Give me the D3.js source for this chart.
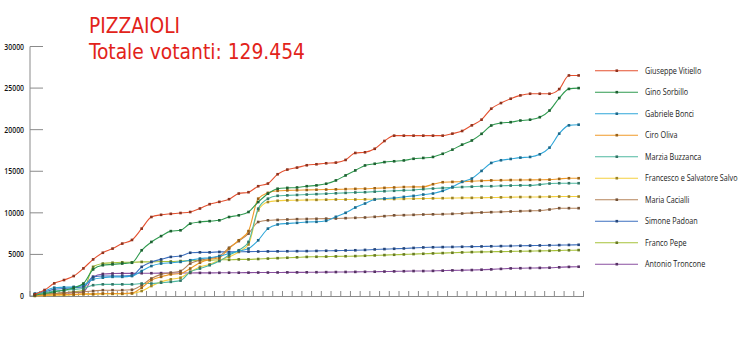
<!DOCTYPE html>
<html lang="it">
<head>
<meta charset="UTF-8" />
<title>Pizzaioli</title>
<script src="https://d3js.org/d3.v7.min.js"></script>
<style>
  html, body { margin: 0; padding: 0; background: #fff; }
  svg { display: block; }
  .title { fill: #e2231a; font-family: "DejaVu Sans Condensed", "Open Sans", sans-serif; font-size: 22px; }
  .ylab { font-family: "Open Sans", sans-serif; font-size: 8px; font-weight: 600; fill: #111; }
  .leg { font-family: "Open Sans", sans-serif; font-size: 8.5px; fill: #1a1a1a; }
</style>
</head>
<body>
<svg width="750" height="343"></svg>
<script>
  // 57 rilevazioni, valori
  const names = ["Giuseppe Vitiello", "Gino Sorbillo", "Gabriele Bonci", "Ciro Oliva", "Marzia Buzzanca",
                 "Francesco e Salvatore Salvo", "Maria Cacialli", "Simone Padoan", "Franco Pepe", "Antonio Troncone"];
  const colors = ["#e4512f", "#2f9a4f", "#2fa6d9", "#f09a28", "#4fb8a0", "#f5d03f", "#b5835a", "#3c6fbf", "#a6c23a", "#8a4fa0"];

  const vitiello = [200,720,1520,1920,2400,3320,4400,5200,5700,6300,6740,8100,9500,9760,9880,9980,10100,10520,11040,11320,
    11640,12320,12480,13200,13520,14640,15200,15440,15720,15840,15960,16040,16360,17200,17280,17700,18640,19280,19280,19280,
    19280,19280,19280,19520,19840,20520,21200,22520,23200,23720,24120,24320,24320,24320,24880,26520,26520];
  const sorbillo = [100,300,500,700,1000,1500,3200,3700,3800,3900,4000,5500,6500,7200,7800,7900,8700,8900,9000,9100,
    9500,9700,10100,11300,12300,12900,13000,13050,13200,13300,13500,13900,14500,15100,15700,15900,16100,16200,16300,16500,
    16600,16720,17100,17600,18200,18700,19500,20500,20800,20900,21100,21200,21500,22300,23800,24900,25000];
  const bonci = [300,600,1000,1050,1100,1300,2000,2200,2300,2300,2400,3000,3600,3900,4000,4100,4300,4500,4600,4800,
    5100,5400,5700,6700,8100,8600,8720,8800,8900,8920,9040,9520,10000,10640,11120,11600,11720,11800,11920,12040,
    12200,12320,12640,13120,13720,14120,15040,16000,16320,16480,16640,16720,17040,17840,19520,20520,20600];
  const oliva = [50,100,150,200,200,250,250,300,300,300,350,1000,1900,2300,2600,2700,3300,4000,4400,4600,
    5700,6700,7800,11700,12400,12650,12700,12720,12750,12780,12800,12820,12850,12880,12900,12950,13000,13050,13100,13120,
    13120,13440,13680,13720,13750,13800,13850,13900,13920,13940,13950,13960,13970,13990,14080,14160,14160];
  const buzzanca = [200,400,600,700,800,900,1300,1400,1400,1400,1400,1500,1500,1600,1700,1850,2900,3300,3700,4200,
    4900,5500,6500,10500,11700,12050,12100,12150,12200,12250,12300,12350,12400,12450,12480,12550,12600,12650,12700,12750,
    12850,12920,13000,13050,13100,13150,13200,13200,13250,13280,13300,13300,13400,13520,13560,13560,13560];
  const salvo = [0,50,100,100,150,200,200,250,250,250,300,600,1200,1700,2000,2200,2900,3500,3800,4300,
    4700,5300,6200,10300,11300,11450,11500,11520,11550,11560,11580,11600,11600,11600,11620,11640,11650,11660,11680,11700,
    11720,11740,11760,11780,11800,11800,11820,11840,11860,11880,11900,11900,11920,11940,11960,11960,11960];
  const cacialli = [100,200,300,400,450,500,600,700,700,700,750,1300,2100,2600,2800,3000,3900,4300,4500,4800,
    5800,6600,7500,8900,9100,9150,9200,9240,9260,9280,9300,9320,9360,9400,9440,9520,9600,9700,9720,9760,
    9800,9820,9840,9880,9920,10000,10040,10080,10120,10160,10200,10240,10280,10400,10560,10560,10560];
  const padoan = [200,500,800,900,1000,1100,2300,2400,2400,2400,2450,3500,4100,4400,4700,4800,5200,5250,5250,5300,
    5300,5320,5340,5350,5360,5370,5380,5390,5400,5420,5440,5450,5480,5500,5540,5600,5640,5680,5720,5780,
    5840,5860,5880,5900,5920,5940,5960,5980,6000,6020,6040,6060,6080,6100,6120,6140,6160];
  const pepe = [100,200,300,400,500,700,3500,3900,4000,4050,4050,4100,4100,4150,4150,4200,4250,4300,4300,4350,
    4350,4400,4400,4450,4500,4550,4600,4650,4700,4720,4740,4760,4780,4800,4840,4880,4920,4960,5000,5040,
    5080,5120,5160,5200,5240,5280,5300,5320,5340,5360,5380,5400,5420,5440,5480,5500,5520];
  const troncone = [100,200,300,350,400,500,2300,2650,2700,2720,2720,2740,2740,2750,2760,2760,2770,2780,2780,2790,
    2800,2800,2810,2820,2820,2830,2840,2840,2850,2860,2870,2880,2890,2900,2910,2920,2940,2960,2980,3000,
    3000,3020,3050,3080,3100,3120,3160,3200,3260,3320,3340,3360,3380,3400,3450,3500,3520];

  const yTicks = [0, 5000, 10000, 15000, 20000, 25000, 30000];
  const series = [vitiello, sorbillo, bonci, oliva, buzzanca, salvo, cacialli, padoan, pepe, troncone];

  const svg = d3.select("svg");
  const x = d3.scaleBand().domain(d3.range(vitiello.length)).range([30, 583.5]);
  const y = d3.scaleLinear().domain([0, 30000]).range([296, 46.5]);

  // titolo
  svg.append("text").attr("class", "title").attr("x", 89).attr("y", 33)
    .attr("textLength", 91).attr("lengthAdjust", "spacingAndGlyphs").text("PIZZAIOLI");
  svg.append("text").attr("class", "title").attr("x", 89).attr("y", 58.5)
    .attr("textLength", 216).attr("lengthAdjust", "spacingAndGlyphs").text("Totale votanti: 129.454");

  // asse y
  svg.append("line").attr("x1", 30).attr("x2", 30).attr("y1", y(30000)).attr("y2", y(0))
    .attr("stroke", "#8a8a8a").attr("stroke-width", 1);
  const yt = svg.append("g").selectAll("g").data(yTicks).join("g")
    .attr("transform", d => `translate(24,${y(d) + 3}) scale(0.86,1)`);
  svg.append("g").selectAll("line").data(yTicks).join("line")
    .attr("x1", 30).attr("x2", 43).attr("y1", d => y(d)).attr("y2", d => y(d))
    .attr("stroke", "#8a8a8a");
  yt.append("text").attr("class", "ylab").attr("text-anchor", "end").text(d => d);

  // asse x
  svg.append("line").attr("x1", 30).attr("x2", 584).attr("y1", 296.5).attr("y2", 296.5)
    .attr("stroke", "#8a8a8a");
  const edges = x.domain().map(d => x(d)).concat([x.range()[1]]);
  svg.append("g").selectAll("line").data(edges).join("line")
    .attr("x1", d => d).attr("x2", d => d).attr("y1", 291).attr("y2", 297)
    .attr("stroke", "#8a8a8a");

  // linee
  const line = d3.line()
    .x((d, i) => x(i) + x.bandwidth() / 2)
    .y(d => y(d))
    .curve(d3.curveMonotoneX);

  const order = d3.range(series.length).reverse();
  order.forEach(k => {
    const g = svg.append("g");
    g.append("path").datum(series[k]).attr("d", line)
      .attr("fill", "none").attr("stroke", colors[k]).attr("stroke-width", 1.1);
    g.selectAll("rect").data(series[k]).join("rect")
      .attr("x", (d, i) => x(i) + x.bandwidth() / 2 - 1.3)
      .attr("y", d => y(d) - 1.3)
      .attr("width", 2.6).attr("height", 2.6)
      .attr("fill", d3.color(colors[k]).darker(1.3));
  });

  // legenda
  const leg = svg.append("g").selectAll("g").data(names).join("g")
    .attr("transform", (d, i) => `translate(0,${70.7 + i * 21.5})`);
  leg.append("line").attr("x1", 595).attr("x2", 638).attr("y1", 0).attr("y2", 0)
    .attr("stroke", (d, i) => colors[i]).attr("stroke-width", 1.1);
  leg.append("rect").attr("x", 615.5).attr("y", -1.3).attr("width", 2.6).attr("height", 2.6)
    .attr("fill", (d, i) => d3.color(colors[i]).darker(1.3));
  leg.append("g").attr("transform", "translate(645,3) scale(0.85,1)")
    .append("text").attr("class", "leg").text(d => d);
</script>
</body>
</html>
